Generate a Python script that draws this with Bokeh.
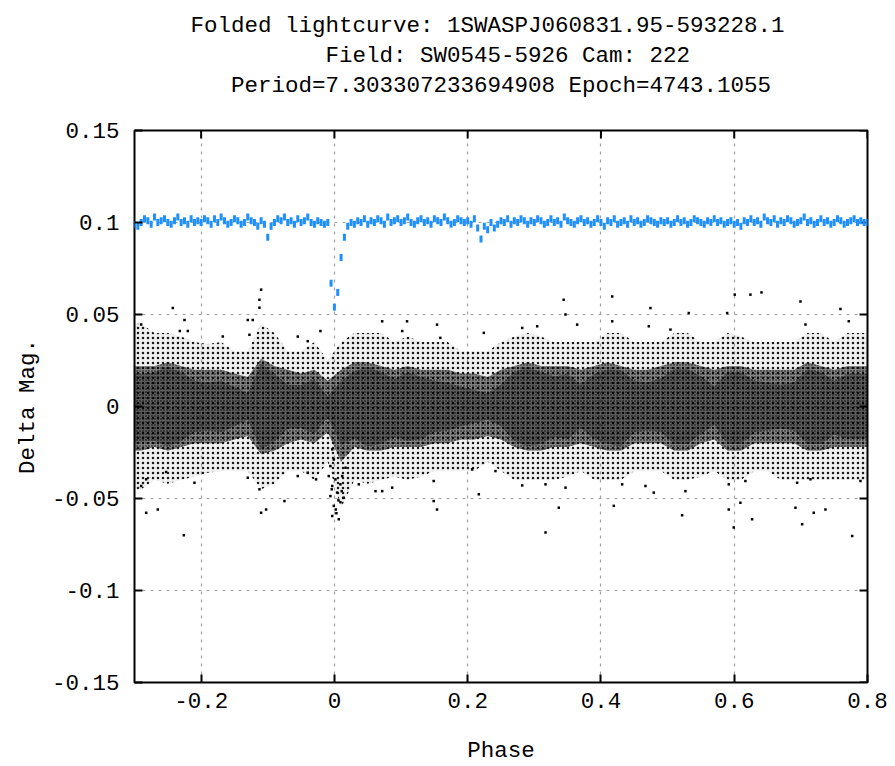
import numpy as np
from bokeh.plotting import figure
from bokeh.models import Range1d, FixedTicker, Title
from bokeh.embed import file_html
from bokeh.resources import INLINE

# ---------------- data ----------------
title_lines = [
    "Folded lightcurve: 1SWASPJ060831.95-593228.1",
    "Field: SW0545-5926 Cam: 222",
    "Period=7.303307233694908 Epoch=4743.1055",
]
title_indent = [0, 10, 3]   # leading character cells of each monospace line
title_trail = [2, 0, 0]     # trailing character cells (shifts the centred block)
x_label = "Phase"
y_label = "Delta Mag."
x_range = (-0.3, 0.8)
y_range = (-0.15, 0.15)
x_ticks = [-0.2, 0.0, 0.2, 0.4, 0.6, 0.8]
x_tick_labels = ["-0.2", "0", "0.2", "0.4", "0.6", "0.8"]
y_ticks = [-0.15, -0.1, -0.05, 0.0, 0.05, 0.1, 0.15]
y_tick_labels = ["-0.15", "-0.1", "-0.05", "0", "0.05", "0.1", "0.15"]

# binned (offset +0.1) lightcurve, phase grid -0.300 .. 0.800 step 0.005
blue_mag = [
    0.099, 0.098, 0.100, 0.102, 0.101, 0.099, 0.103, 0.100, 0.101, 0.102,
    0.100, 0.099, 0.101, 0.103, 0.100, 0.101, 0.099, 0.102, 0.100, 0.101,
    0.100, 0.102, 0.101, 0.099, 0.102, 0.100, 0.103, 0.101, 0.099, 0.100,
    0.102, 0.101, 0.099, 0.100, 0.103, 0.101, 0.100, 0.098, 0.101, 0.099,
    0.092, 0.098, 0.100, 0.102, 0.101, 0.103, 0.100, 0.101, 0.099, 0.102,
    0.100, 0.101, 0.103, 0.100, 0.099, 0.101, 0.100, 0.099, 0.100, 0.067,
    0.054, 0.062, 0.081, 0.092, 0.098, 0.100, 0.099, 0.101, 0.100, 0.102,
    0.099, 0.101, 0.100, 0.102, 0.101, 0.099, 0.103, 0.100, 0.101, 0.102,
    0.100, 0.101, 0.103, 0.100, 0.099, 0.101, 0.102, 0.100, 0.101, 0.099,
    0.102, 0.101, 0.100, 0.103, 0.101, 0.099, 0.100, 0.102, 0.101, 0.100,
    0.101, 0.099, 0.102, 0.097, 0.091, 0.098, 0.096, 0.100, 0.097, 0.099,
    0.101, 0.100, 0.102, 0.099, 0.101, 0.100, 0.102, 0.101, 0.099, 0.101,
    0.100, 0.102, 0.101, 0.099, 0.100, 0.102, 0.100, 0.101, 0.099, 0.103,
    0.101, 0.100, 0.099, 0.101, 0.102, 0.100, 0.101, 0.099, 0.100, 0.102,
    0.100, 0.098, 0.101, 0.100, 0.102, 0.099, 0.100, 0.101, 0.099, 0.102,
    0.100, 0.101, 0.099, 0.100, 0.102, 0.101, 0.100, 0.099, 0.101, 0.100,
    0.101, 0.099, 0.100, 0.102, 0.100, 0.101, 0.099, 0.100, 0.102, 0.101,
    0.100, 0.099, 0.101, 0.100, 0.102, 0.100, 0.101, 0.099, 0.100, 0.101,
    0.099, 0.100, 0.098, 0.101, 0.100, 0.102, 0.100, 0.101, 0.099, 0.103,
    0.101, 0.100, 0.102, 0.099, 0.101, 0.100, 0.102, 0.101, 0.099, 0.100,
    0.101, 0.103, 0.100, 0.101, 0.099, 0.100, 0.102, 0.100, 0.101, 0.099,
    0.100, 0.102, 0.101, 0.099, 0.100, 0.101, 0.102, 0.100, 0.101, 0.100,
    0.100,
]
blue_phase = np.round(np.linspace(-0.3, 0.8, len(blue_mag)), 3)

# raw photometry cloud summarised per 0.02-phase bin (centres -0.29 .. 0.79)
core_lo = [-0.024, -0.022, -0.024, -0.022, -0.020, -0.020, -0.020, -0.018, -0.016, -0.026,
           -0.024, -0.020, -0.018, -0.020, -0.014, -0.030, -0.022, -0.024, -0.024, -0.022,
           -0.022, -0.022, -0.020, -0.020, -0.018, -0.018, -0.016, -0.018, -0.022, -0.024,
           -0.024, -0.022, -0.022, -0.020, -0.022, -0.024, -0.024, -0.020, -0.020, -0.020,
           -0.024, -0.024, -0.020, -0.018, -0.024, -0.024, -0.020, -0.020, -0.020, -0.020,
           -0.024, -0.024, -0.022, -0.022, -0.022]
core_hi = [0.022, 0.022, 0.024, 0.022, 0.020, 0.020, 0.020, 0.018, 0.016, 0.026,
           0.022, 0.020, 0.018, 0.020, 0.014, 0.020, 0.024, 0.024, 0.022, 0.020,
           0.022, 0.020, 0.020, 0.020, 0.018, 0.018, 0.016, 0.020, 0.022, 0.024,
           0.022, 0.022, 0.022, 0.020, 0.022, 0.024, 0.022, 0.020, 0.020, 0.022,
           0.024, 0.024, 0.022, 0.020, 0.022, 0.022, 0.020, 0.020, 0.020, 0.020,
           0.024, 0.022, 0.020, 0.022, 0.022]
halo_lo = [-0.045, -0.040, -0.042, -0.040, -0.038, -0.036, -0.035, -0.035, -0.035, -0.045,
           -0.042, -0.035, -0.035, -0.040, -0.030, -0.055, -0.040, -0.042, -0.040, -0.038,
           -0.040, -0.038, -0.035, -0.035, -0.035, -0.035, -0.030, -0.035, -0.040, -0.040,
           -0.040, -0.040, -0.038, -0.035, -0.040, -0.040, -0.040, -0.035, -0.035, -0.035,
           -0.040, -0.040, -0.038, -0.035, -0.040, -0.040, -0.035, -0.035, -0.040, -0.040,
           -0.040, -0.040, -0.040, -0.040, -0.040]
halo_hi = [0.045, 0.040, 0.040, 0.038, 0.035, 0.034, 0.035, 0.030, 0.030, 0.045,
           0.040, 0.030, 0.030, 0.035, 0.025, 0.035, 0.040, 0.040, 0.040, 0.035,
           0.038, 0.035, 0.035, 0.035, 0.030, 0.030, 0.030, 0.035, 0.038, 0.040,
           0.038, 0.035, 0.035, 0.035, 0.035, 0.040, 0.040, 0.035, 0.035, 0.035,
           0.040, 0.040, 0.035, 0.035, 0.040, 0.038, 0.035, 0.035, 0.035, 0.035,
           0.040, 0.040, 0.035, 0.040, 0.040]
density = [0.80, 0.85, 0.90, 0.85, 0.70, 0.65, 0.70, 0.60, 0.45, 0.90,
           0.80, 0.60, 0.65, 0.75, 0.40, 0.70, 0.80, 0.90, 0.85, 0.75,
           0.85, 0.80, 0.70, 0.65, 0.60, 0.50, 0.45, 0.60, 0.85, 0.90,
           0.85, 0.75, 0.80, 0.60, 0.80, 0.85, 0.90, 0.70, 0.65, 0.70,
           0.85, 0.85, 0.75, 0.55, 0.85, 0.85, 0.70, 0.65, 0.60, 0.65,
           0.85, 0.85, 0.70, 0.80, 0.80]
bin_centre = np.round(np.linspace(-0.29, 0.79, len(density)), 2)

# individual points (outliers and the eclipse)
pt_phase = [
    -0.2425, -0.110, -0.1125, -0.1125, -0.225, -0.232, -0.220, -0.290, -0.1675, -0.130,
    -0.1225, -0.1275, -0.055, -0.040, -0.2825, -0.265, -0.226, -0.110, -0.1025, -0.075,
    -0.1125, -0.2525, -0.290, -0.2825, -0.210, -0.130, -0.055, -0.040, -0.0275,
    -0.0033, 0.0066, -0.0009, 0.009, -0.006, 0.004, 0.014, -0.0033, 0.0016, -0.0085,
    0.009, -0.006, -0.0009, 0.0117, 0.0167, -0.0033, 0.002, 0.006, -0.004, 0.011, 0.003,
    0.0717, 0.109, 0.154, 0.159, 0.1017, -0.021, 0.2242, 0.149, 0.154, 0.0617,
    0.0717, 0.0867, 0.2167, 0.2067, 0.149, 0.0366,
    0.344, 0.4169, 0.4743, 0.3468, 0.2818, 0.3043, 0.3643, 0.4169, 0.4718, 0.5043,
    0.3367, 0.3168, 0.4193, 0.2818, 0.3168, 0.3468, 0.4318, 0.4793, 0.4668, 0.2417,
    0.6243, 0.6409, 0.6008, 0.6994, 0.7594, 0.5894, 0.5318, 0.7719, 0.7069,
    0.5218, 0.5993, 0.6268, 0.7019, 0.7194, 0.7369, 0.777, 0.5918, 0.6093, 0.6919,
    0.5268, 0.6944, 0.7144, 0.7894, 0.6168, 0.5918,
]
pt_mag = [
    0.0535, 0.0635, 0.058, 0.0537, 0.047, 0.041, 0.041, 0.0445, 0.038, 0.047,
    0.047, 0.039, 0.038, 0.0355, -0.0577, -0.056, -0.070, -0.0577, -0.056, -0.0514,
    -0.045, -0.0356, -0.0432, -0.0396, -0.0414, -0.0387, -0.0378, -0.036, -0.0396,
    -0.0595, -0.0613, -0.054, -0.052, -0.0487, -0.0468, -0.0496, -0.0432, -0.0396, -0.0378,
    -0.0423, -0.0324, -0.0288, -0.0378, -0.0333, -0.0233, -0.056, -0.051, -0.045, -0.046, -0.058,
    0.0463, 0.0463, 0.0445, 0.0373, 0.041, 0.041, 0.040, -0.0514, -0.056, -0.046,
    -0.046, -0.0441, -0.0477, -0.0342, -0.0405, -0.0423,
    0.058, 0.0598, 0.0535, 0.050, 0.0427, 0.0436, 0.0445, 0.0463, 0.0436, 0.0418,
    -0.055, -0.0685, -0.054, -0.0429, -0.0423, -0.0441, -0.0423, -0.0468, -0.0432, -0.0351,
    0.0608, 0.062, 0.0608, 0.0571, 0.053, 0.0508, 0.0508, 0.0463, 0.0445,
    -0.0591, -0.0658, -0.0613, -0.064, -0.0577, -0.056, -0.0704, -0.056, -0.0523, -0.055,
    -0.046, -0.0414, -0.0396, -0.0405, -0.0405, -0.0423,
]

# ---------------- figure ----------------
FONT = "Liberation Mono"
FS = "22.5px"
p = figure(width=890, height=766, output_backend="svg", toolbar_location=None,
           title=None,
           x_range=Range1d(*x_range), y_range=Range1d(*y_range),
           min_border_left=134, min_border_right=23, min_border_top=130,
           min_border_bottom=83)
p.background_fill_color = "white"
p.border_fill_color = "white"
p.outline_line_color = "black"
p.outline_line_width = 2

# multi-line monospace title; lines padded with non-breaking spaces, plus a
# trailing blank line that keeps the block clear of the frame
NBSP = "\u00a0"
block = [NBSP * a + s + NBSP * b for a, s, b in zip(title_indent, title_lines, title_trail)]
block.append(NBSP)
p.add_layout(Title(text="\n".join(block), align="center",
                   text_font=FONT, text_font_size=FS, text_font_style="normal",
                   text_color="black", text_line_height=1.15, standoff=3), "above")

for ax in p.xaxis + p.yaxis:
    ax.major_label_text_font = FONT
    ax.major_label_text_font_size = FS
    ax.major_label_text_color = "black"
    ax.axis_label_text_font = FONT
    ax.axis_label_text_font_size = FS
    ax.axis_label_text_font_style = "normal"
    ax.axis_label_text_color = "black"
    ax.axis_line_color = None
    ax.major_tick_in = 8
    ax.major_tick_out = 0
    ax.major_tick_line_width = 2
    ax.minor_tick_line_color = None

p.xaxis.ticker = FixedTicker(ticks=x_ticks)
p.yaxis.ticker = FixedTicker(ticks=y_ticks)
p.xaxis.major_label_overrides = dict(zip(x_ticks, x_tick_labels))
p.yaxis.major_label_overrides = dict(zip(y_ticks, y_tick_labels))
p.xaxis.axis_label = x_label
p.yaxis.axis_label = y_label
p.xaxis.major_label_standoff = 10
p.yaxis.major_label_standoff = 15
p.xaxis.axis_label_standoff = 27
p.yaxis.axis_label_standoff = 8

for g in (p.xgrid, p.ygrid):
    g.grid_line_color = "#a0a0a0"
    g.grid_line_dash = "3 5"
    g.grid_line_width = 1.2
p.xgrid.ticker = FixedTicker(ticks=x_ticks)
p.ygrid.ticker = FixedTicker(ticks=y_ticks)

# mirrored inward ticks on the top and right frame edges (half clipped by the frame)
p.scatter(x_ticks, [y_range[1]] * len(x_ticks), marker="dash", angle=np.pi / 2,
          size=16, line_color="black", line_width=2)
p.scatter([x_range[1]] * len(y_ticks), y_ticks, marker="dash",
          size=16, line_color="black", line_width=2)

# photometry cloud envelopes
xe = np.concatenate([[x_range[0]], bin_centre, [x_range[1]]])
def pad(a):
    a = np.asarray(a, dtype=float)
    return np.concatenate([[a[0]], a, [a[-1]]])
dens = pad(density)
p.varea(x=xe, y1=pad(halo_lo), y2=pad(halo_hi), fill_color="black", fill_alpha=0.06,
        hatch_pattern="dot", hatch_color="black", hatch_scale=5, hatch_weight=1.6,
        hatch_alpha=0.9)
p.varea(x=xe, y1=pad(core_lo), y2=pad(core_hi), fill_color="black", fill_alpha=0.45,
        hatch_pattern="dot", hatch_color="black", hatch_scale=3, hatch_weight=1.6,
        hatch_alpha=0.9)
p.varea(x=xe, y1=pad(core_lo) * dens, y2=pad(core_hi) * dens, fill_color="black",
        fill_alpha=0.3)

p.scatter(pt_phase, pt_mag, marker="square", size=2.5, fill_color="black", line_color=None)

p.rect(x=blue_phase, y=blue_mag, width=3, height=7, width_units="screen",
       height_units="screen", fill_color="#1e8fff", line_color=None)

open("out.html", "w").write(file_html(p, INLINE))
